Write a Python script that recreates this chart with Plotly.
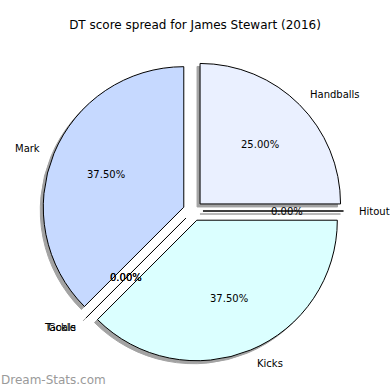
import math
import plotly.graph_objects as go

# ---- data ----
labels = ["Handballs", "Hitout", "Kicks", "Tackle", "Goals", "Mark"]
values = [25.0, 0.0, 37.5, 0.0, 0.0, 37.5]
colors = ["#eaf0ff", "#e0ecff", "#dbffff", "#d0e0ff", "#d0e0ff", "#c6d9ff"]
title_text = "DT score spread for James Stewart (2016)"
watermark = "Dream-Stats.com"

# ---- layout geometry (pixels) ----
W = H = 390
cx, cy = 193.0, 211.0      # pie centre
R = 140.5                  # pie radius
PULL = 0.071               # explode fraction of radius
SH = 3.0                   # shadow offset (px)
FONT = "DejaVu Sans"

half = R * (1 + PULL)


def dom(dx=0.0, dy=0.0):
    x0 = (cx + dx - half) / W
    x1 = (cx + dx + half) / W
    y0 = (H - (cy + dy) - half) / H
    y1 = (H - (cy + dy) + half) / H
    return dict(x=[x0, x1], y=[y0, y1])


fig = go.Figure()

# shadow
fig.add_trace(go.Pie(
    labels=labels, values=values, sort=False, direction="clockwise", rotation=0,
    pull=[PULL] * len(values), domain=dom(-SH, SH),
    marker=dict(colors=["#a3a3a3"] * len(values), line=dict(color="#a3a3a3", width=1)),
    textinfo="none", hoverinfo="skip", showlegend=False,
))
# main pie
fig.add_trace(go.Pie(
    labels=labels, values=values, sort=False, direction="clockwise", rotation=0,
    pull=[PULL] * len(values), domain=dom(),
    marker=dict(colors=colors, line=dict(color="black", width=1)),
    textinfo="none", showlegend=False,
))

# labels and percentages computed from the data
total = sum(values)
ann = []
start = 90.0
for lab, v in zip(labels, values):
    span = 360.0 * v / total
    mid = math.radians(start - span / 2)
    start -= span
    ex = cx + PULL * R * math.cos(mid)
    ey = cy - PULL * R * math.sin(mid)
    # outer label
    lx = ex + 1.1 * R * math.cos(mid)
    ly = ey - 1.1 * R * math.sin(mid)
    ann.append(dict(x=lx / W, y=1 - ly / H, xref="paper", yref="paper",
                    text=lab, showarrow=False,
                    xanchor="left" if math.cos(mid) > 0 else "right", yanchor="middle",
                    font=dict(family=FONT, size=10, color="black"), borderpad=0))
    # percentage
    px = ex + 0.6 * R * math.cos(mid)
    py = ey - 0.6 * R * math.sin(mid)
    ann.append(dict(x=px / W, y=1 - py / H, xref="paper", yref="paper",
                    text=f"{100 * v / total:.2f}%", showarrow=False,
                    xanchor="center", yanchor="middle",
                    font=dict(family=FONT, size=10, color="black"), borderpad=0))

ann.append(dict(x=0, y=1 - 380 / H, xref="paper", yref="paper", text=watermark,
                showarrow=False, xanchor="left", yanchor="middle", borderpad=0,
                font=dict(family=FONT, size=12, color="#9a9a9a")))

fig.update_layout(
    width=W, height=H,
    margin=dict(l=0, r=0, t=0, b=0),
    paper_bgcolor="white", plot_bgcolor="white",
    title=dict(text=title_text, x=0.5, xanchor="center", y=1 - 25 / H, yanchor="middle",
               font=dict(family=FONT, size=12, color="black")),
    annotations=ann,
)

fig.write_html("out.html", config={"displayModeBar": False},
               post_script="document.body.style.margin='0';document.body.style.overflow='hidden';")
